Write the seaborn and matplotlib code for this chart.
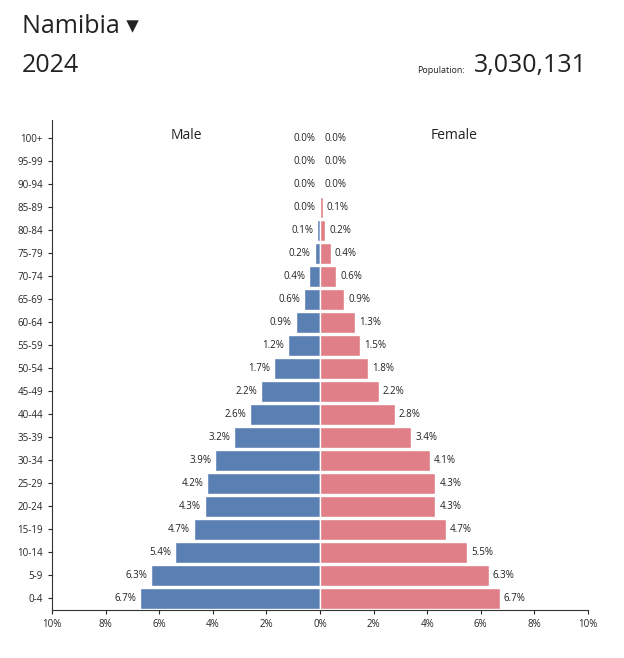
import matplotlib
matplotlib.use("Agg")
import matplotlib.pyplot as plt
import seaborn as sns
import pandas as pd

ages = ['100+','95-99','90-94','85-89','80-84','75-79','70-74','65-69','60-64','55-59',
        '50-54','45-49','40-44','35-39','30-34','25-29','20-24','15-19','10-14','5-9','0-4']
male = [0.0,0.0,0.0,0.0,0.1,0.2,0.4,0.6,0.9,1.2,1.7,2.2,2.6,3.2,3.9,4.2,4.3,4.7,5.4,6.3,6.7]
female = [0.0,0.0,0.0,0.1,0.2,0.4,0.6,0.9,1.3,1.5,1.8,2.2,2.8,3.4,4.1,4.3,4.3,4.7,5.5,6.3,6.7]
xticks = [-10,-8,-6,-4,-2,0,2,4,6,8,10]
xlabels = ['10%','8%','6%','4%','2%','0%','2%','4%','6%','8%','10%']

sns.set_style("white")
plt.rcParams['font.family'] = ['Open Sans', 'DejaVu Sans']

df = pd.DataFrame({'age': ages, 'male': [-m for m in male], 'female': female})

fig = plt.figure(figsize=(6.24, 6.58), dpi=100)
ax = fig.add_axes([0.0833, 0.073, 0.859, 0.745])
sns.barplot(data=df, y='age', x='male', order=ages, color='#5a7fb2', saturation=1,
            width=0.93, ax=ax, orient='h')
sns.barplot(data=df, y='age', x='female', order=ages, color='#e07f88', saturation=1,
            width=0.93, ax=ax, orient='h')
ax.set_xlim(-10, 10)
ax.set_ylim(len(ages) - 0.5, -0.8)
ax.set_xticks(xticks)
ax.set_xticklabels(xlabels, fontsize=7)
ax.tick_params(axis='y', labelsize=7, length=3, left=True)
ax.tick_params(axis='x', length=3, bottom=True)
ax.set_xlabel('')
ax.set_ylabel('')
for s in ['top', 'right']:
    ax.spines[s].set_visible(False)
for s in ['left', 'bottom']:
    ax.spines[s].set_color('#333333')
    ax.spines[s].set_linewidth(0.8)

for i, (m, f) in enumerate(zip(male, female)):
    ax.text(-m - 0.15, i, f'{m:.1f}%', ha='right', va='center', fontsize=7, color='#222222')
    ax.text(f + 0.15, i, f'{f:.1f}%', ha='left', va='center', fontsize=7, color='#222222')

ax.text(-5, -0.1, 'Male', ha='center', va='center', fontsize=10, color='#222222')
ax.text(5, -0.1, 'Female', ha='center', va='center', fontsize=10, color='#222222')

fig.text(0.035, 0.96, 'Namibia \u25BE', fontsize=18, ha='left', va='center', color='#222222')
fig.text(0.035, 0.90, '2024', fontsize=18, ha='left', va='center', color='#222222')
fig.text(0.94, 0.90, '3,030,131', fontsize=18, ha='right', va='center', color='#222222')
fig.text(0.745, 0.893, 'Population:', fontsize=6.5, ha='right', va='center', color='#222222')

fig.savefig('out.png', dpi=100)
